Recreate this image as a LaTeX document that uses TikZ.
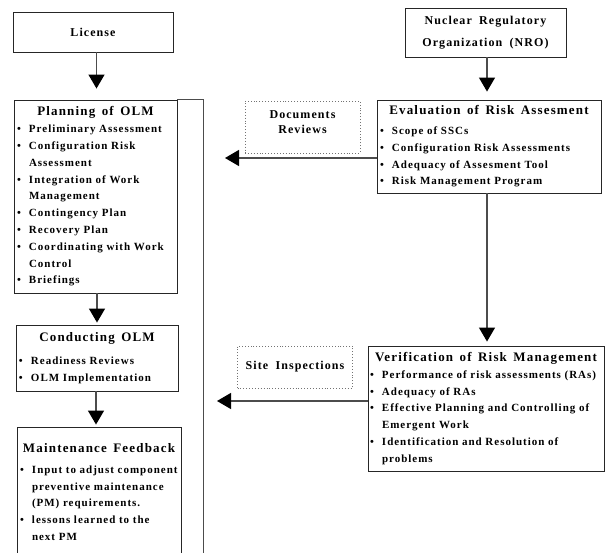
\documentclass[tikz,border=0pt]{standalone}
\usepackage{fontspec}
\setmainfont{Liberation Serif}[LetterSpace=9,WordSpace=1.8]
\usetikzlibrary{shapes.geometric,arrows.meta}
\tikzstyle{orgbox}=[rectangle,draw=black!85,line width=0.9pt,font=\bfseries\fontsize{12}{22}\selectfont,align=center,inner sep=3pt]
\tikzstyle{process}=[rectangle,draw=black!85,line width=0.9pt,align=left,inner xsep=3pt,inner ysep=2pt,font=\bfseries\fontsize{11}{16.8}\selectfont]
\tikzstyle{review}=[rectangle,draw=black!55,dotted,line width=0.9pt,align=center,font=\bfseries\fontsize{12}{15}\selectfont]
\tikzstyle{arrow}=[draw=black!70,line width=1.3pt,-{Triangle[width=16pt,length=14pt,color=black]}]
\tikzstyle{line}=[draw=black!70,line width=0.9pt]
\newcommand{\boxtitle}[1]{{\centering\fontsize{13}{17}\selectfont\spaceskip=0.5em plus 0.1em #1\par}}
\newcommand{\bitem}[1]{\par\hangindent=12pt\hangafter=1\noindent\makebox[12pt][l]{\textbullet}#1\par}

\begin{document}
\begin{tikzpicture}[node distance=100pt]
            \useasboundingbox (0,0) rectangle (605pt,-553pt);
            % licensee side
            \node (license)[orgbox,minimum width=160pt,minimum height=40pt] at (93pt,-32pt){License};
            \node (planning)[process,below of=license,yshift=-64.5pt,xshift=2.5pt,text width=157pt,minimum height=193pt]{\boxtitle{Planning of OLM}
                \bitem{Preliminary Assessment}
                \bitem{Configuration Risk\newline Assessment}
                \bitem{Integration of Work\newline Management}
                \bitem{Contingency Plan}
                \bitem{Recovery Plan}
                \bitem{Coordinating with Work\newline Control}
                \bitem{Briefings}};
            \node (conducting)[process,below of=planning,yshift=-61.5pt,xshift=1.5pt,text width=156pt,minimum height=66pt]{\boxtitle{Conducting OLM}\vspace{7pt}
                \bitem{Readiness Reviews}
                \bitem{OLM Implementation}};
            \node (maint)[process,below of=conducting,yshift=-34pt,xshift=2pt,text width=158pt,minimum height=130pt]{\boxtitle{Maintenance Feedback}\vspace{4pt}
                \bitem{Input to adjust component\newline preventive maintenance\newline (PM) requirements.}
                \bitem{lessons learned to the\newline next PM}};
            % regulator side
            \node (nro)[orgbox,right of=license,xshift=292.5pt,yshift=-0.5pt,minimum width=161pt,minimum height=49pt]{Nuclear Regulatory\\Organization (NRO)};
            \node (eval)[process,below of=nro,yshift=-14pt,xshift=3.5pt,text width=218pt,minimum height=93pt]{\boxtitle{Evaluation of Risk Assesment}\vspace{3pt}
                \bitem{Scope of SSCs}
                \bitem{Configuration Risk Assessments}
                \bitem{Adequacy of Assesment Tool}
                \bitem{Risk Management Program}};
            \node (verif)[process,below of=eval,yshift=-162pt,xshift=-3pt,inner xsep=2pt,text width=232pt,minimum height=125pt]{\boxtitle{Verification of Risk Management}
                \bitem{Performance of risk assessments (RAs)}
                \bitem{Adequacy of RAs}
                \bitem{Effective Planning and Controlling of\newline Emergent Work}
                \bitem{Identification and Resolution of\newline problems}};
            \node (docs)[review,left of=eval,xshift=-86.5pt,yshift=19.5pt,minimum width=115pt,minimum height=52pt]{Documents\\Reviews\\[-6pt]};
            \node (site)[review,left of=verif,xshift=-91pt,yshift=41.5pt,minimum width=115pt,minimum height=42pt]{Site Inspections};
            \coordinate (docstip) at (225pt,-158pt);
            \coordinate (sitetip) at (217pt,-401pt);
            \coordinate (bracketend) at (203pt,-560pt);
            \draw [arrow,shorten >=11pt] ([xshift=3.5pt]license.south) -- ([xshift=1pt]planning.north);
            \draw [arrow,shorten >=2pt] ([xshift=1.5pt]planning.south) -- (conducting.north);
            \draw [arrow,shorten >=2pt] ([xshift=-1pt]conducting.south) -- ([xshift=-3pt]maint.north);
            \draw [line] (planning.north east) -| (bracketend);
            \draw [arrow,shorten >=8pt] ([xshift=1.5pt]nro.south) -- ([xshift=-2pt]eval.north);
            \draw [arrow,shorten >=4pt] ([xshift=-2pt]eval.south) -- ([xshift=1pt]verif.north);
            \draw [arrow] (eval.west |- docstip) -- (docstip);
            \draw [arrow] (verif.west |- sitetip) -- (sitetip);
        \end{tikzpicture}
\end{document}
